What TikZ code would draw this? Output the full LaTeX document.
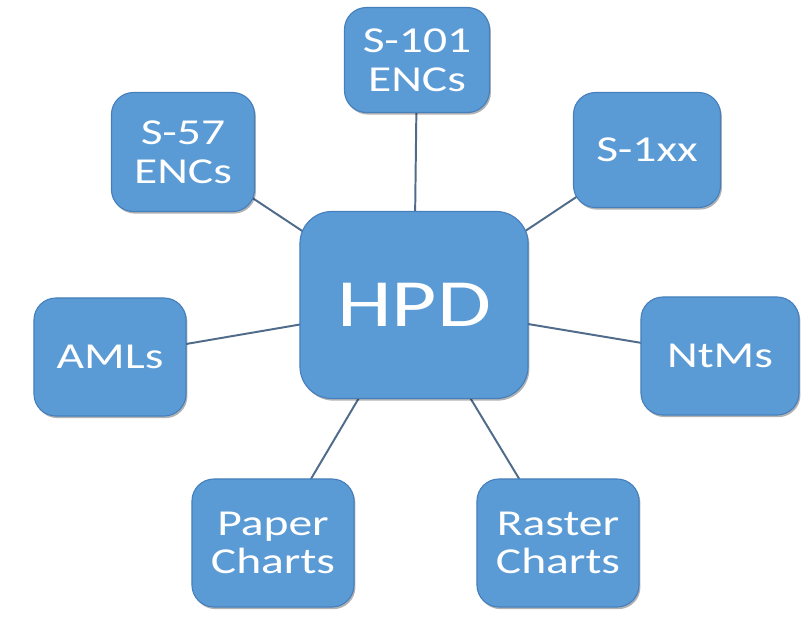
\documentclass[tikz,border=0pt]{standalone}
\usepackage{fontspec}
\setmainfont{Carlito}
\newfontfamily\boxfont[FakeStretch=1.3]{Carlito}
\usepackage{tikz}
\usetikzlibrary{shapes,positioning,calc,shadows,backgrounds}
\definecolor{hpdblue}{RGB}{91,155,213}
\definecolor{hpdedge}{RGB}{70,128,188}
\definecolor{linkgray}{RGB}{80,108,138}

\begin{document}
\begin{tikzpicture}[x=0.025cm, y=-0.025cm,
        box/.style={draw=hpdedge, line width=0.8pt, rectangle, rounded corners=0.55cm,
            fill=hpdblue, text=white, align=center, inner sep=0pt,
            font=\boxfont\fontsize{26}{27.5}\selectfont,
            drop shadow={shadow xshift=1pt, shadow yshift=-1.5pt, opacity=0.3, fill=black}},
        hub/.style={box, rounded corners=0.8cm, font=\boxfont\fontsize{48}{48}\selectfont},
        link/.style={draw=linkgray, line width=1.4pt}
    ]
        \useasboundingbox (0,0) rectangle (801,620);

        % Centre
        \node (hpd) [hub, minimum width=5.7cm, minimum height=4.675cm] at (414,305) {HPD};

        % Top row
        \node (s101) [box, minimum width=3.625cm, minimum height=2.625cm] at (417,60) {S-101\\ENCs};
        \node (s57) [box, minimum width=3.575cm, minimum height=2.975cm] at (183,152) {S-57\\ENCs};
        \node (s1xx) [box, minimum width=3.675cm, minimum height=2.875cm] at (647,150) {S-1xx};

        % Middle row
        \node (aml) [box, minimum width=3.8cm, minimum height=2.95cm] at (110,357) {AMLs};
        \node (ntm) [box, minimum width=3.95cm, minimum height=2.95cm] at (720,356) {NtMs};

        % Bottom row
        \node (paper) [box, minimum width=4.05cm, minimum height=3.2cm] at (273,543) {Paper\\Charts};
        \node (raster) [box, minimum width=4.05cm, minimum height=3.2cm] at (558,543) {Raster\\Charts};

        % Links
        \begin{scope}[on background layer]
            \foreach \n in {s101,s57,s1xx,aml,ntm,paper,raster}
                \draw [link] (hpd.center) -- (\n.center);
        \end{scope}
    \end{tikzpicture}
\end{document}
